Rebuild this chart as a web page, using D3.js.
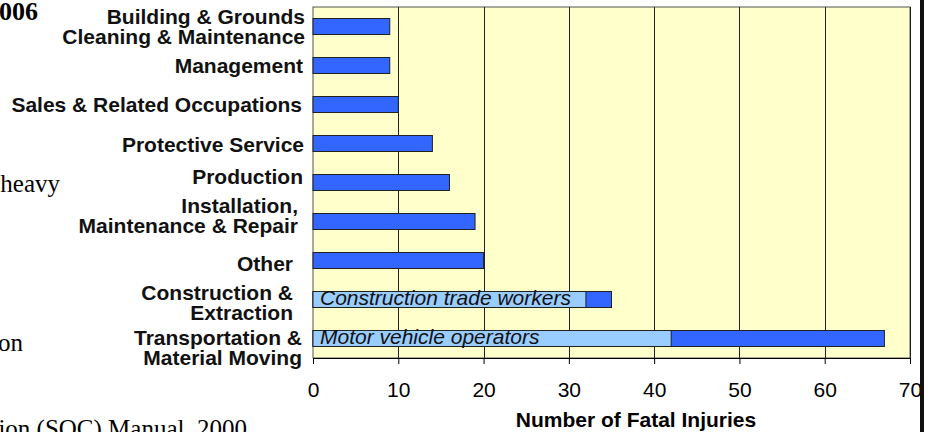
<!DOCTYPE html>
<html>
<head>
<meta charset="utf-8">
<script src="https://cdn.jsdelivr.net/npm/d3@7/dist/d3.min.js"></script>
<style>
  html, body { margin: 0; padding: 0; background: #fff; }
  svg { display: block; }
  text { font-family: "Liberation Sans", Arial, sans-serif; }
  text.serif { font-family: "Liberation Serif", "Times New Roman", serif; font-size: 25px; }
</style>
</head>
<body>
<svg id="chart"></svg>
<script>
// occupations, top to bottom
const categories = [
    "Building & Grounds|Cleaning & Maintenance",
    "Management",
    "Sales & Related Occupations",
    "Protective Service",
    "Production",
    "Installation,|Maintenance & Repair",
    "Other",
    "Construction &|Extraction",
    "Transportation &|Material Moving"
];

// total fatal injuries per occupation
const totals = [9, 9, 10, 14, 16, 19, 20, 35, 67];

// highlighted sub-group inside a bar (null = none)
const subgroupValues = [null, null, null, null, null, null, null, 32, 42];
const subgroupLabels = [null, null, null, null, null, null, null,
    "Construction trade workers", "Motor vehicle operators"];

const xTicks = [0, 10, 20, 30, 40, 50, 60, 70];
const xTitle = "Number of Fatal Injuries";

const width = 930, height = 432;
const plot = {left: 313, right: 910, top: 7, bottom: 358};

const svg = d3.select("#chart")
    .attr("width", width)
    .attr("height", height);

// bits of slide text around the chart, cut off by the frame
const side = svg.append("g").attr("text-anchor", "end");
side.append("text")
    .attr("class", "serif")
    .attr("x", 38).attr("y", 20)
    .style("font-size", "26px").style("font-weight", "bold")
    .text("2006");
side.append("text")
    .attr("class", "serif")
    .attr("x", 60).attr("y", 192)
    .text("heavy");
side.append("text")
    .attr("class", "serif")
    .attr("x", 23).attr("y", 351)
    .text("on");
side.append("text")
    .attr("class", "serif")
    .attr("x", 247).attr("y", 437)
    .text("Classification (SOC) Manual, 2000");

const x = d3.scaleLinear()
    .domain([0, 70])
    .range([plot.left, plot.right]);

const y = d3.scaleBand()
    .domain(categories)
    .range([plot.top, plot.bottom])
    .paddingInner(0.59)
    .paddingOuter(0.295);

// plot background
svg.append("rect")
    .attr("x", plot.left).attr("y", plot.top)
    .attr("width", plot.right - plot.left)
    .attr("height", plot.bottom - plot.top)
    .style("fill", "#FFFFCC")
    .style("stroke", "#555")
    .style("stroke-width", 1);

// vertical gridlines
svg.append("g")
    .selectAll("line")
    .data(xTicks.slice(1))
    .join("line")
    .attr("x1", d => Math.round(x(d)) + 0.5)
    .attr("x2", d => Math.round(x(d)) + 0.5)
    .attr("y1", plot.top)
    .attr("y2", plot.bottom)
    .style("stroke", "#222")
    .style("stroke-width", 1);

// bars
const bars = svg.append("g");
bars.selectAll("rect.total")
    .data(categories)
    .join("rect")
    .attr("class", "total")
    .attr("x", x(0))
    .attr("y", d => y(d))
    .attr("width", (d, i) => x(totals[i]) - x(0))
    .attr("height", y.bandwidth())
    .style("fill", "#3366FF")
    .style("stroke", "#222")
    .style("stroke-width", 1);

const subIdx = d3.range(categories.length).filter(i => subgroupValues[i] != null);

bars.selectAll("rect.sub")
    .data(subIdx)
    .join("rect")
    .attr("class", "sub")
    .attr("x", x(0))
    .attr("y", i => y(categories[i]))
    .attr("width", i => x(subgroupValues[i]) - x(0))
    .attr("height", y.bandwidth())
    .style("fill", "#99CCFF")
    .style("stroke", "#222")
    .style("stroke-width", 1);

bars.selectAll("text.sub")
    .data(subIdx)
    .join("text")
    .attr("class", "sub")
    .attr("x", x(0) + 7)
    .attr("y", i => y(categories[i]) + y.bandwidth() / 2 + 5)
    .style("font-size", "21px")
    .style("font-style", "italic")
    .style("fill", "#111")
    .text(i => subgroupLabels[i]);

// x axis
const xAxis = svg.append("g")
    .attr("transform", `translate(0,${plot.bottom})`)
    .call(d3.axisBottom(x).tickValues(xTicks).tickSize(6).tickPadding(18));
xAxis.select(".domain").style("stroke", "#000");
xAxis.selectAll(".tick line").style("stroke", "#000");
xAxis.selectAll(".tick text")
    .style("font-family", "Liberation Sans")
    .style("font-size", "21px")
    .style("fill", "#000");

svg.append("text")
    .attr("x", 636).attr("y", 427)
    .attr("text-anchor", "middle")
    .style("font-size", "21px")
    .style("font-weight", "bold")
    .text(xTitle);

// category labels (hand placed like the original slide)
const labelNudge = [[-8, 0], [-10, 0], [-11, 0], [-9, 1], [-10, -6], [-15, -6], [-20, 3], [-20, 3], [-11, 9]];
const lineGap = 20;

const labels = svg.append("g")
    .selectAll("text")
    .data(categories)
    .join("text")
    .attr("text-anchor", "end")
    .style("font-size", "21px")
    .style("font-weight", "bold")
    .style("fill", "#111")
    .attr("transform", (d, i) => {
        const cy = y(d) + y.bandwidth() / 2 + labelNudge[i][1];
        return `translate(${plot.left + labelNudge[i][0]},${cy})`;
    });

labels.each(function(d) {
    const lines = d.split("|");
    const off = -(lines.length - 1) * lineGap / 2;
    d3.select(this).selectAll("tspan")
        .data(lines)
        .join("tspan")
        .attr("x", 0)
        .attr("y", (l, k) => off + k * lineGap + 7.5)
        .text(l => l);
});

// heavy frame edge on the right
svg.append("rect")
    .attr("x", 920).attr("y", 0)
    .attr("width", 4).attr("height", height)
    .style("fill", "#111");
</script>
</body>
</html>
